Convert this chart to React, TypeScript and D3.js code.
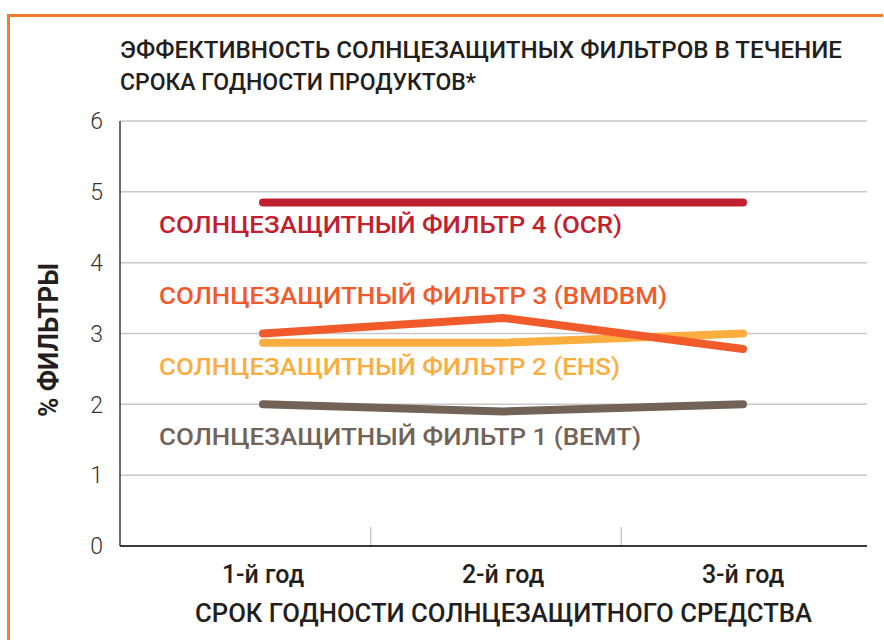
import * as d3 from 'd3';

// categories (x axis)
const YEARS = ['1-й год', '2-й год', '3-й год'];

// series values, % filters
const BEMT = [2.0, 1.9, 2.0];
const EHS = [2.87, 2.87, 3.0];
const BMDBM = [3.0, 3.22, 2.78];
const OCR = [4.85, 4.85, 4.85];

const SERIES_NAMES = [
  'СОЛНЦЕЗАЩИТНЫЙ ФИЛЬТР 1 (BEMT)',
  'СОЛНЦЕЗАЩИТНЫЙ ФИЛЬТР 2 (EHS)',
  'СОЛНЦЕЗАЩИТНЫЙ ФИЛЬТР 3 (BMDBM)',
  'СОЛНЦЕЗАЩИТНЫЙ ФИЛЬТР 4 (OCR)',
];
const Y_TICKS = [0, 1, 2, 3, 4, 5, 6];

const TITLE_LINES = [
  'ЭФФЕКТИВНОСТЬ СОЛНЦЕЗАЩИТНЫХ ФИЛЬТРОВ В ТЕЧЕНИЕ',
  'СРОКА ГОДНОСТИ ПРОДУКТОВ*',
];
const X_TITLE = 'СРОК ГОДНОСТИ СОЛНЦЕЗАЩИТНОГО СРЕДСТВА';
const Y_TITLE = '% ФИЛЬТРЫ';

const COLORS = ['#736357', '#fbad3f', '#f15a2b', '#c1202f'];
const LABEL_WIDTHS = [482, 461, 508, 463];

const W = 884;
const H = 640;
const FONT = 'Roboto, "Noto Sans", sans-serif';

export default function App() {
  const seriesValues = [BEMT, EHS, BMDBM, OCR];

  const y = d3.scaleLinear().domain([0, 6]).range([546, 121]);
  // band scale for the tick marks between categories
  const xBand = d3.scaleBand<string>().domain(YEARS).range([120, 872]);
  // point scale for line vertices and category labels
  const x = d3.scalePoint<string>().domain(YEARS).range([263, 743]);

  const line = d3
    .line<number>()
    .x((_, i) => x(YEARS[i]) ?? 0)
    .y((d) => y(d));

  const plotLeft = 120;
  const plotRight = 867;

  return (
    <svg
      width={W}
      height={H}
      style={{ position: 'absolute', left: 0, top: 0, background: 'white', fontFamily: FONT }}
    >
      {/* orange frame */}
      <path d={`M8.5,${H} L8.5,15.5 L883,15.5`} fill="none" stroke="#f47b2b" strokeWidth={3} />

      {/* title */}
      {TITLE_LINES.map((t, i) => (
        <text
          key={t}
          x={120}
          y={58 + i * 32}
          fontSize={24.5}
          fontWeight={500}
          fill="#231f20"
          textLength={i === 0 ? 722 : 356}
          lengthAdjust="spacingAndGlyphs"
        >
          {t}
        </text>
      ))}

      {/* grid */}
      {Y_TICKS.filter((t) => t > 0).map((t) => (
        <line
          key={t}
          x1={plotLeft}
          x2={plotRight}
          y1={y(t)}
          y2={y(t)}
          stroke="#c8c8c8"
          strokeWidth={1.5}
        />
      ))}

      {/* category separators */}
      {YEARS.slice(1).map((c) => (
        <line
          key={c}
          x1={xBand(c)}
          x2={xBand(c)}
          y1={y(0)}
          y2={y(0) - 19}
          stroke="#c8c8c8"
          strokeWidth={1.5}
        />
      ))}

      {/* axes */}
      <line x1={plotLeft} x2={plotLeft} y1={y(6)} y2={y(0)} stroke="#3a3a3a" strokeWidth={1.5} />
      <line x1={plotLeft} x2={plotRight} y1={y(0)} y2={y(0)} stroke="#3a3a3a" strokeWidth={2} />

      {/* y tick labels */}
      {Y_TICKS.map((t) => (
        <text
          key={t}
          x={103}
          y={y(t)}
          dy="0.36em"
          textAnchor="end"
          fontSize={23}
          fontWeight={300}
          fill="#333"
        >
          {t}
        </text>
      ))}

      {/* series lines */}
      {seriesValues.map((vals, i) => (
        <path
          key={i}
          d={line(vals) ?? ''}
          fill="none"
          stroke={COLORS[i]}
          strokeWidth={8}
          strokeLinecap="round"
          strokeLinejoin="round"
        />
      ))}

      {/* series labels */}
      {SERIES_NAMES.map((name, i) => (
        <text
          key={name}
          x={159}
          y={y(i + 1.42)}
          fontSize={24}
          fontWeight={500}
          fill={COLORS[i]}
          textLength={LABEL_WIDTHS[i]}
          lengthAdjust="spacingAndGlyphs"
        >
          {name}
        </text>
      ))}

      {/* x category labels */}
      {YEARS.map((c) => (
        <text
          key={c}
          x={x(c)}
          y={583}
          textAnchor="middle"
          fontSize={25}
          fontWeight={500}
          fill="#231f20"
        >
          {c}
        </text>
      ))}

      {/* x axis title */}
      <text
        x={195}
        y={622}
        fontSize={26}
        fontWeight={500}
        fill="#231f20"
        textLength={617}
        lengthAdjust="spacingAndGlyphs"
      >
        {X_TITLE}
      </text>

      {/* y axis title */}
      <text
        transform="translate(58,340) rotate(-90)"
        textAnchor="middle"
        fontSize={27}
        fontWeight={700}
        fill="#231f20"
        textLength={154}
        lengthAdjust="spacingAndGlyphs"
      >
        {Y_TITLE}
      </text>
    </svg>
  );
}
